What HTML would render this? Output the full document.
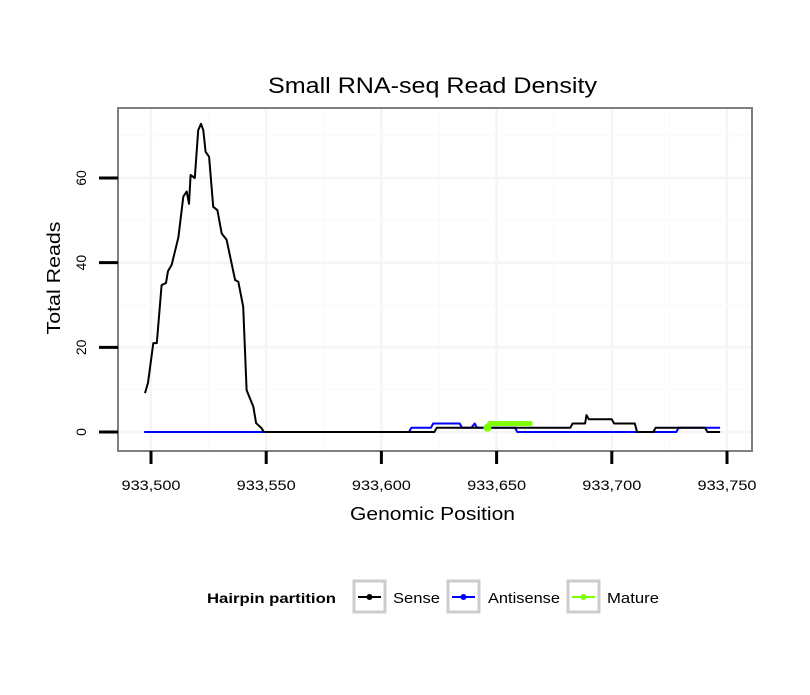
<!DOCTYPE html>
<html><head><meta charset="utf-8"><style>
body{margin:0;background:#fff}
svg text{font-family:"Liberation Sans",sans-serif}
</style></head><body>
<svg id="chart" width="810" height="690">
<rect x="0" y="0" width="810" height="690" fill="#fff"/>
<text x="268" y="93" font-size="22" textLength="329" lengthAdjust="spacingAndGlyphs">Small RNA-seq Read Density</text>
<g id="panel"></g>
<text x="350" y="520" font-size="18" textLength="165" lengthAdjust="spacingAndGlyphs">Genomic Position</text>
<text x="0" y="0" font-size="18" textLength="113" lengthAdjust="spacingAndGlyphs" text-anchor="middle" transform="translate(60,278) rotate(-90)">Total Reads</text>
<g>
<text x="207" y="603" font-size="14" font-weight="bold" textLength="129" lengthAdjust="spacingAndGlyphs">Hairpin partition</text>
<g>
<rect x="354" y="581" width="31" height="31" fill="#fff" stroke="#ccc" stroke-width="3"/>
<line x1="358" y1="597" x2="381" y2="597" stroke="#000" stroke-width="2"/><circle cx="369.5" cy="597" r="3" fill="#000"/>
<text x="393" y="603" font-size="15" textLength="47" lengthAdjust="spacingAndGlyphs">Sense</text></g>
<g>
<rect x="448" y="581" width="31" height="31" fill="#fff" stroke="#ccc" stroke-width="3"/>
<line x1="452" y1="597" x2="475" y2="597" stroke="#0000ff" stroke-width="2"/><circle cx="463.5" cy="597" r="3" fill="#0000ff"/>
<text x="488" y="603" font-size="15" textLength="72" lengthAdjust="spacingAndGlyphs">Antisense</text></g>
<g>
<rect x="568" y="581" width="31" height="31" fill="#fff" stroke="#ccc" stroke-width="3"/>
<line x1="572" y1="597" x2="595" y2="597" stroke="#7fff00" stroke-width="2"/><circle cx="583.5" cy="597" r="3" fill="#7fff00"/>
<text x="607" y="603" font-size="15" textLength="52" lengthAdjust="spacingAndGlyphs">Mature</text></g>
</g>
</svg>
<script>
const xTicks=[933500,933550,933600,933650,933700,933750];
const xTickLabels=["933,500","933,550","933,600","933,650","933,700","933,750"];
const yTicks=[0,20,40,60];
const yTickLabels=["0","20","40","60"];
const senseX=[933497.4,933498.7,933501,933502.5,933504.6,933506.5,933507.4,933509,933511.9,933514,933515.5,933516.5,933517.2,933519,933520.5,933521.7,933522.7,933523.7,933525.2,933527,933528.8,933530.7,933532.8,933536.5,933537.9,933540,933541.5,933544.4,933545.6,933548,933549,933623,933624,933682,933683,933688.4,933689,933690,933700,933701,933710,933711,933718,933719,933740.5,933741.5,933747];
const senseY=[9.2,11.6,21,21,34.7,35.2,38,39.5,46,55.6,56.8,53.9,60.7,60,71.3,72.8,71.3,66.2,65,53.2,52.4,46.9,45.4,35.9,35.5,29.6,9.9,6,2.1,0.9,0,0,1,1,2,2,4,3,3,2,2,0,0,1,1,0,0];
const antiX=[933497,933612,933613,933621.5,933622.5,933634,933635,933639,933640.5,933641.5,933658,933659,933728,933729,933747];
const antiY=[0,0,1,1,2,2,1,1,2,1,1,0,0,1,1];
const matureX=[933646,933647,933650,933655,933660,933665.5];
const matureY=[1,2,2,2,2,2];

const L=118,R=752,T=108,B=451;
const sx=v=>151+(v-933500)*576/250;
const sy=v=>432-v*254/60;
const NS='http://www.w3.org/2000/svg';
const g=document.getElementById('panel');
function mk(t,a,p){const e=document.createElementNS(NS,t);for(const k in a)e.setAttribute(k,a[k]);(p||g).appendChild(e);return e;}
const grid=mk('g',{});


for(let i=0;i<xTicks.length;i++){const x=sx(xTicks[i]);if(x>L&&x<R)mk('line',{x1:x,x2:x,y1:T,y2:B,stroke:'#f5f5f5','stroke-width':2.5},grid);
 if(i<xTicks.length-1){const xm=sx((xTicks[i]+xTicks[i+1])/2);mk('line',{x1:xm,x2:xm,y1:T,y2:B,stroke:'#fafafa','stroke-width':1.2},grid);}}
for(let i=0;i<yTicks.length;i++){const y=sy(yTicks[i]);mk('line',{x1:L,x2:R,y1:y,y2:y,stroke:'#f5f5f5','stroke-width':2.5},grid);
 const ym=sy(yTicks[i]+10);if(ym>T)mk('line',{x1:L,x2:R,y1:ym,y2:ym,stroke:'#fafafa','stroke-width':1.2},grid);}
function line(X,Y,col,w,name){const d=X.map((v,i)=>(i?'L':'M')+sx(v).toFixed(1)+','+sy(Y[i]).toFixed(1)).join('');
 const p=mk('path',{d:d,fill:'none',stroke:col,'stroke-width':w,'stroke-linejoin':'round'});
 
 return p;}
line(antiX,antiY,'#0000ff',2,'antisense-line');
line(senseX,senseY,'#000',2,'sense-line');
line(matureX,matureY,'#7fff00',5,'mature-line');
const mp=mk('circle',{cx:sx(matureX[0]),cy:sy(matureY[0]),r:4,fill:'#7fff00'});


const fr=mk('rect',{x:L,y:T,width:R-L,height:B-T,fill:'none',stroke:'#7f7f7f','stroke-width':2});


for(let i=0;i<xTicks.length;i++){const x=sx(xTicks[i]);
 mk('line',{x1:x,x2:x,y1:B,y2:B+13,stroke:'#000','stroke-width':3});
 const t=mk('text',{x:x-29.5,y:490,'font-size':14,textLength:59,lengthAdjust:'spacingAndGlyphs'});t.textContent=xTickLabels[i];
 
 }
for(let i=0;i<yTicks.length;i++){const y=sy(yTicks[i]);
 mk('line',{x1:L-19,x2:L,y1:y,y2:y,stroke:'#000','stroke-width':3});
 const t=mk('text',{x:0,y:0,'font-size':14,'text-anchor':'middle',transform:`translate(86,${y}) rotate(-90)`});t.textContent=yTickLabels[i];
 
 }
</script>
</body></html>
